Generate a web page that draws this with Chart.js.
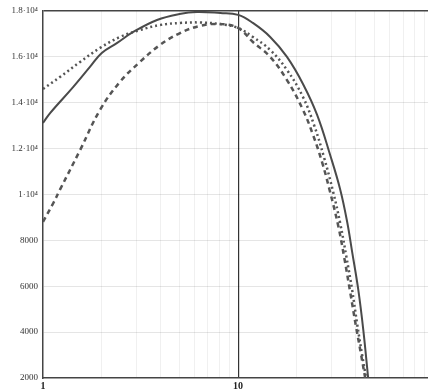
<!DOCTYPE html>
<html>
<head>
<meta charset="utf-8">
<script src="https://cdn.jsdelivr.net/npm/chart.js@4/dist/chart.umd.min.js"></script>
<style>
    html, body { margin: 0; padding: 0; background: #fff; }
    #wrap { width: 428px; height: 392px; }
</style>
</head>
<body>
<div id="wrap"><canvas id="curveChart" width="428" height="392"></canvas></div>
<script>
// values (x is on a log axis)
const solidX = [1, 1.09, 1.43, 1.74, 2.0, 2.4, 2.9, 3.84, 5.0, 6.16, 8.1, 10, 11.9, 14.6, 17.8, 21.5, 25.4, 29.6, 33.4, 36.2, 38.4, 41.3, 43.8, 46.4];
const solidY = [13120, 13560, 14690, 15560, 16170, 16610, 17085, 17610, 17870, 17960, 17910, 17830, 17480, 16870, 16000, 14820, 13470, 11730, 10200, 8810, 7500, 5840, 4100, 2000];

const dottedX = [1, 1.22, 1.55, 1.96, 2.48, 3.14, 3.98, 5.04, 6.38, 8.08, 10, 11.9, 14.6, 17.8, 21.5, 24.5, 27.6, 30.7, 33.4, 35.8, 38.4, 40.8, 43.2, 45.3];
const dottedY = [14600, 15120, 15780, 16390, 16870, 17170, 17390, 17480, 17500, 17430, 17260, 16870, 16300, 15430, 14250, 13030, 11600, 10110, 8720, 7330, 5840, 4320, 3010, 2000];

const dashedX = [1, 1.13, 1.22, 1.55, 1.96, 2.48, 3.14, 3.98, 5.04, 6.38, 8.08, 10, 11.9, 14.6, 17.8, 21.5, 24.2, 27.0, 29.6, 32.6, 35.0, 37.5, 40.3, 42.7, 44.8];
const dashedY = [8810, 9630, 10200, 11940, 13690, 14910, 15780, 16520, 17040, 17350, 17430, 17260, 16650, 16000, 14990, 13690, 12600, 11380, 10110, 8630, 7240, 5760, 4190, 3010, 2000];

const xTicks = [1, 2, 3, 4, 5, 6, 7, 8, 9, 10, 20, 30, 40, 50, 60, 70, 80, 90];
const xTickLabels = { 1: "1", 10: "10" };
const yTicks = [2000, 4000, 6000, 8000, 10000, 12000, 14000, 16000, 18000];
const yTickLabels = ["2000", "4000", "6000", "8000", "1·10⁴", "1.2·10⁴", "1.4·10⁴", "1.6·10⁴", "1.8·10⁴"];

function points(xs, ys) {
    return xs.map((x, i) => ({ x: x, y: ys[i] }));
}

const lineStyle = {
    fill: false,
    pointRadius: 0,
    tension: 0.4
};

new Chart(document.getElementById("curveChart"), {
    type: "line",
    data: {
        datasets: [
            Object.assign({ data: points(solidX, solidY), borderColor: "#4a4a4a", borderWidth: 2 }, lineStyle),
            Object.assign({ data: points(dottedX, dottedY), borderColor: "#555", borderWidth: 2.5, borderDash: [2, 3] }, lineStyle),
            Object.assign({ data: points(dashedX, dashedY), borderColor: "#555", borderWidth: 2.5, borderDash: [5, 4] }, lineStyle)
        ]
    },
    options: {
        responsive: false,
        animation: false,
        layout: { padding: { top: 11, right: 0, left: 0, bottom: 0 } },
        plugins: { legend: { display: false }, tooltip: { enabled: false } },
        scales: {
            x: {
                type: "logarithmic",
                min: 1,
                max: 94,
                afterBuildTicks: (scale) => {
                    scale.ticks = xTicks.map((v) => ({ value: v }));
                },
                afterFit: (scale) => { scale.height = 14; },
                ticks: {
                    autoSkip: false,
                    maxRotation: 0,
                    padding: 2,
                    color: "#222",
                    font: { family: "Liberation Serif", size: 10, weight: "bold" },
                    callback: (value) => xTickLabels[value] || ""
                },
                grid: {
                    drawTicks: false,
                    lineWidth: (ctx) => ctx.tick && ctx.tick.value === 10 ? 1.2 : 1,
                    color: (ctx) => {
                        if (!ctx.tick) return "rgba(0,0,0,0)";
                        if (ctx.tick.value === 10) return "#333";
                        if (ctx.tick.value === 1) return "rgba(0,0,0,0)";
                        return "rgba(0,0,0,0.06)";
                    }
                },
                border: { color: "#444", width: 1.5 }
            },
            y: {
                min: 2000,
                max: 18000,
                afterBuildTicks: (scale) => {
                    scale.ticks = yTicks.map((v) => ({ value: v }));
                },
                afterFit: (scale) => { scale.width = 43; },
                ticks: {
                    padding: 5,
                    color: "#333",
                    font: { family: "Liberation Serif", size: 9 },
                    callback: (value) => yTickLabels[yTicks.indexOf(value)]
                },
                grid: {
                    drawTicks: false,
                    lineWidth: (ctx) => ctx.tick && ctx.tick.value === 18000 ? 1.5 : 1,
                    color: (ctx) => {
                        if (!ctx.tick) return "rgba(0,0,0,0)";
                        if (ctx.tick.value === 18000) return "#444";
                        if (ctx.tick.value === 2000) return "rgba(0,0,0,0)";
                        return "rgba(0,0,0,0.1)";
                    }
                },
                border: { color: "#444", width: 1.5 }
            }
        }
    }
});
</script>
</body>
</html>
